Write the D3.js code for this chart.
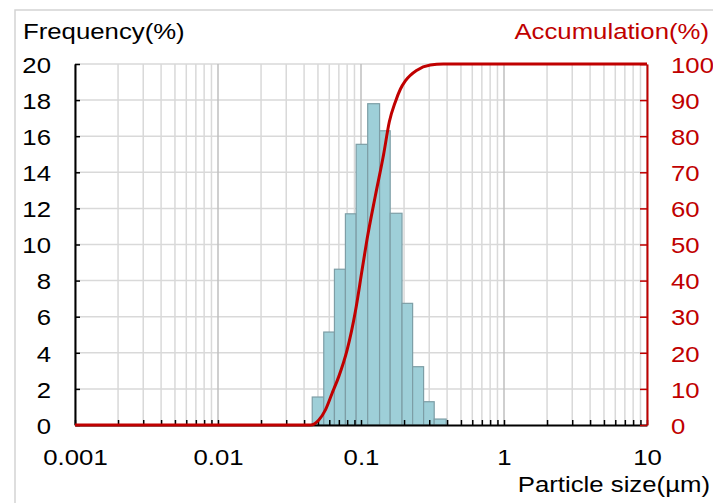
<!DOCTYPE html>
<html>
<head>
<meta charset="utf-8">
<script src="https://cdn.jsdelivr.net/npm/d3@7"></script>
<style>
  body { margin: 0; background: #fff; }
  text { font-family: "Liberation Sans", Arial, sans-serif; }
</style>
</head>
<body>
<script>
// bin edges (um) and frequency (%) of each bin
var binEdges = [0.0456, 0.0549, 0.0652, 0.0778, 0.0925, 0.1114, 0.1349, 0.160, 0.1936, 0.2296, 0.274, 0.325, 0.394];
var frequency = [1.55, 5.15, 8.63, 11.7, 15.55, 17.8, 16.3, 11.73, 6.74, 3.23, 1.29, 0.33];

// accumulation curve
var accSize = [0.001, 0.0443, 0.0507, 0.0564, 0.0628, 0.0699, 0.080, 0.0914, 0.1018, 0.1103, 0.126, 0.144, 0.1578, 0.1738, 0.1884, 0.2041, 0.2463, 0.305, 0.376, 10];
var accValue = [0, 0, 1.4, 4.2, 8.8, 13.4, 20.8, 31.5, 43.0, 51.5, 63.5, 75.0, 84.0, 89.5, 93.0, 95.3, 98.3, 99.7, 100, 100];

var freqTicks = d3.range(0, 21, 2);
var accTicks = d3.range(0, 101, 10);
var decades = [0.001, 0.01, 0.1, 1, 10];

var W = 713, H = 503;
var margin = { top: 64, right: 66, bottom: 78, left: 75 },
    width = W - margin.left - margin.right,
    height = H - margin.top - margin.bottom;
var red = "#c00000";
var sx = 1.12; // text in the picture is a bit wide

var svg = d3.select("body").append("svg")
    .attr("width", W)
    .attr("height", H);

// outer frame
svg.append("rect")
    .attr("x", 15).attr("y", 10)
    .attr("width", 740).attr("height", 540)
    .attr("fill", "none")
    .attr("stroke", "#d4d4d4")
    .attr("stroke-width", 1.5);

var g = svg.append("g")
    .attr("transform", "translate(" + margin.left + "," + margin.top + ")");

var x = d3.scaleLog().domain([0.001, 10]).range([0, width]);
var yL = d3.scaleLinear().domain([0, 20]).range([height, 0]);
var yR = d3.scaleLinear().domain([0, 100]).range([height, 0]);

// every 1..9 multiple
var minor = [];
decades.slice(0, 4).forEach(function (d) {
    for (var k = 1; k < 10; k++) minor.push(d * k);
});
minor.push(10);

// grid
g.selectAll(".hgrid")
    .data(freqTicks.slice(1))
    .enter().append("line")
      .attr("x1", 0).attr("x2", width)
      .attr("y1", function (d) { return yL(d); })
      .attr("y2", function (d) { return yL(d); })
      .attr("stroke", "#d9d9d9")
      .attr("stroke-width", 1.5);

g.selectAll(".vgrid")
    .data(minor)
    .enter().append("line")
      .attr("x1", function (d) { return x(d); })
      .attr("x2", function (d) { return x(d); })
      .attr("y1", 0).attr("y2", height)
      .attr("stroke", function (d) { return decades.indexOf(d) >= 0 ? "#bfbfbf" : "#d9d9d9"; })
      .attr("stroke-width", 1.5);

// bars
g.selectAll(".bar")
    .data(frequency)
    .enter().append("rect")
      .attr("x", function (d, i) { return x(binEdges[i]); })
      .attr("y", function (d) { return yL(d); })
      .attr("width", function (d, i) { return x(binEdges[i + 1]) - x(binEdges[i]); })
      .attr("height", function (d) { return height - yL(d); })
      .attr("fill", "#9ecfd8")
      .attr("stroke", "#7d9ea6")
      .attr("stroke-width", 1.2);

// bottom axis
var xAxis = g.append("g")
    .attr("transform", "translate(0," + height + ")")
    .call(d3.axisBottom(x)
        .tickValues(minor)
        .tickSize(-5)
        .tickSizeOuter(0)
        .tickFormat(function (d) { return decades.indexOf(d) >= 0 ? String(d) : ""; }));
xAxis.select(".domain").attr("stroke", "#000").attr("stroke-width", 2);
xAxis.selectAll(".tick line").attr("stroke", "#000").attr("stroke-width", 1.5);
xAxis.selectAll(".tick text")
    .attr("y", 40).attr("dy", null)
    .attr("transform", "scale(" + sx + ",1)")
    .attr("font-size", 23).attr("fill", "#000");

// left axis
var yAxisL = g.append("g")
    .call(d3.axisLeft(yL).tickValues(freqTicks).tickSize(-5).tickSizeOuter(0));
yAxisL.select(".domain").attr("stroke", "#000").attr("stroke-width", 2);
yAxisL.selectAll(".tick line").attr("stroke", "#000").attr("stroke-width", 1.5);
yAxisL.selectAll(".tick text")
    .attr("x", -24 / sx).attr("dy", "0.36em")
    .attr("transform", "scale(" + sx + ",1)")
    .attr("font-size", 23).attr("fill", "#000");

// right axis
var yAxisR = g.append("g")
    .attr("transform", "translate(" + width + ",0)")
    .call(d3.axisRight(yR).tickValues(accTicks).tickSize(-7).tickSizeOuter(0));
yAxisR.select(".domain").attr("stroke", red).attr("stroke-width", 2);
yAxisR.selectAll(".tick line").attr("stroke", red).attr("stroke-width", 1.5);
yAxisR.selectAll(".tick text")
    .attr("x", 24 / sx).attr("dy", "0.36em")
    .attr("transform", "scale(" + sx + ",1)")
    .attr("font-size", 23).attr("fill", red);

// accumulation curve
var accPoints = accSize.map(function (s, i) { return [s, accValue[i]]; });
g.append("path")
    .datum(accPoints)
    .attr("fill", "none")
    .attr("stroke", red)
    .attr("stroke-width", 3)
    .attr("stroke-linejoin", "round")
    .attr("d", d3.line()
        .x(function (d) { return x(d[0]); })
        .y(function (d) { return yR(d[1]); })
        .curve(d3.curveMonotoneX));

// titles
function label(txt, px, py, anchor, color) {
    svg.append("text")
        .attr("transform", "translate(" + px + "," + py + ") scale(" + sx + ",1)")
        .attr("text-anchor", anchor)
        .attr("font-size", 23)
        .attr("fill", color)
        .text(txt);
}
label("Frequency(%)", 23, 39, "start", "#000");
label("Accumulation(%)", 709, 39, "end", red);
label("Particle size(µm)", 710, 492, "end", "#000");
</script>
</body>
</html>
